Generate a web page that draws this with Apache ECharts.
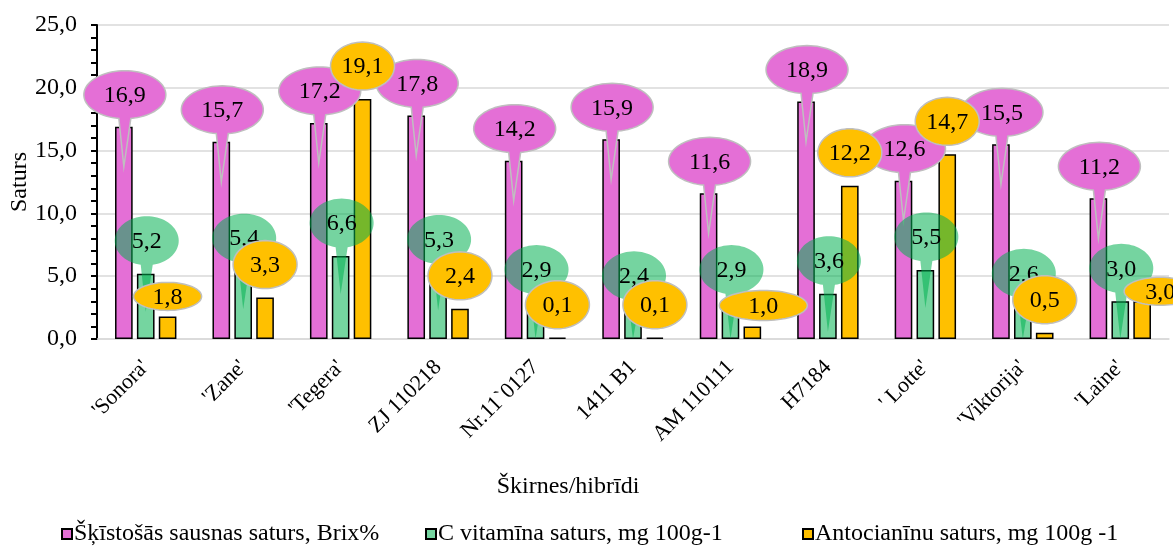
<!DOCTYPE html>
<html>
<head>
<meta charset="utf-8">
<script src="https://cdn.jsdelivr.net/npm/echarts@6/dist/echarts.min.js"></script>
<style>
html, body { margin: 0; background: #fff; }
#chart { width: 1173px; height: 547px; }
</style>
</head>
<body>
<div id="chart"></div>
<script>
const categories = ["'Sonora'", "'Zane'", "'Tegera'", 'ZJ 110218', 'Nr.11`0127', '1411 B1', 'AM 110111', 'H7184', "' Lotte'", "'Viktorija'", "'Laine'"]
const brix = [16.9, 15.7, 17.2, 17.8, 14.2, 15.9, 11.6, 18.9, 12.6, 15.5, 11.2]
const vitC = [5.2, 5.4, 6.6, 5.3, 2.9, 2.4, 2.9, 3.6, 5.5, 2.6, 3.0]
const antho = [1.8, 3.3, 19.1, 2.4, 0.1, 0.1, 1.0, 12.2, 14.7, 0.5, 3.0]
const seriesNames = ['Šķīstošās sausnas saturs, Brix%', 'C vitamīna saturs, mg 100g-1', 'Antocianīnu saturs, mg 100g -1']
const yTicks = { min: 0, max: 25, interval: 5 }

const FONT = '"Liberation Serif", "Times New Roman", serif'
const PINK = '#E46FD6'
const GREEN = '#75D5A0'
const YELLOW = '#FFC000'
const BAR_CAT_GAP = 0.37
const BAR_GAP = 0.24
const legendLefts = [56, 420, 797]

// callout shapes (label layout only, not data)
const calloutStyle = [
  { rx: 41, ry: 24, dy: -32, dx: 1, tail: 40, fill: PINK, stroke: '#BFBFBF' },
  { rx: 32, ry: 24.5, dy: -33, dx: 1, tail: 38, fill: 'rgba(0, 176, 80, 0.54)', stroke: null },
  { rx: 32, ry: 24, dy: -33, dx: 0, tail: 0, fill: YELLOW, stroke: '#BFBFBF' },
]
const yellowTweaks = {
  0: { rx: 34, ry: 14, dy: -20 },
  6: { rx: 44, ry: 15, dy: -21, dx: 11 },
  10: { rx: 36, ry: 14, dy: -10, dx: 18 },
}

const fmt = (v) => v.toFixed(1).replace('.', ',')

function barX(api, idx, pos) {
  const c = api.coord([idx, 0])
  const band = api.size([1, 0])[0]
  const groupW = band * (1 - BAR_CAT_GAP)
  const bw = groupW / (3 + 2 * BAR_GAP)
  return c[0] - groupW / 2 + bw / 2 + pos * bw * (1 + BAR_GAP)
}

function ellipsePoints(cx, cy, rx, ry, tipX, tipY, baseW) {
  const pts = []
  const N = 72
  let start = 0
  let end = -2 * Math.PI
  if (tipY != null) {
    const d = Math.asin(Math.min(1, baseW / 2 / rx))
    start = Math.PI / 2 - d
    end = Math.PI / 2 + d - 2 * Math.PI
  }
  for (let i = 0; i <= N; i++) {
    const t = start + (end - start) * i / N
    pts.push([cx + rx * Math.cos(t), cy + ry * Math.sin(t)])
  }
  if (tipY != null) pts.push([tipX, tipY])
  return pts
}

function calloutSeries(values, pos, z) {
  return {
    type: 'custom',
    z,
    clip: false,
    silent: true,
    data: values.map((v, i) => [i, v]),
    encode: { x: 0, y: 1 },
    renderItem(params, api) {
      const idx = api.value(0)
      const v = api.value(1)
      const s = Object.assign({}, calloutStyle[pos], pos === 2 ? yellowTweaks[idx] || {} : {})
      const x = barX(api, idx, pos)
      const top = api.coord([idx, v])[1]
      const y0 = api.coord([idx, 0])[1]
      const cx = x + s.dx
      const cy = top + s.dy
      const tipY = s.tail ? Math.min(top + s.tail, y0) : null
      const shapeStyle = { fill: s.fill }
      if (s.stroke) { shapeStyle.stroke = s.stroke; shapeStyle.lineWidth = 1.5 }
      return {
        type: 'group',
        children: [
          {
            type: 'polygon',
            shape: { points: ellipsePoints(cx, cy, s.rx, s.ry, x, tipY, 12) },
            style: shapeStyle,
          },
          {
            type: 'text',
            style: {
              text: fmt(v),
              x: cx,
              y: cy + 1,
              align: 'center',
              verticalAlign: 'middle',
              font: '24px ' + FONT,
              fill: '#000',
            },
          },
        ],
      }
    },
  }
}

const barStyle = (color) => ({ color, borderColor: '#000', borderWidth: 1.5 })

const chart = echarts.init(document.getElementById('chart'))
chart.setOption({
  animation: false,
  textStyle: { fontFamily: FONT, color: '#000' },
  grid: { left: 97, right: 4, top: 25, bottom: 208, outerBoundsMode: 'none' },
  legend: seriesNames.map((n, i) => ({
    data: [n],
    left: legendLefts[i],
    top: 517,
    icon: 'rect',
    itemWidth: 10,
    itemHeight: 10,
    selectedMode: false,
    textStyle: { fontSize: 24, fontFamily: FONT, color: '#000', padding: [0, 0, 0, -3] },
  })),
  graphic: [
    {
      type: 'text',
      x: 568,
      y: 487,
      style: { text: 'Škirnes/hibrīdi', align: 'center', verticalAlign: 'middle', font: '24px ' + FONT, fill: '#000' },
    },
    {
      type: 'text',
      x: 20,
      y: 182,
      rotation: Math.PI / 2,
      style: { text: 'Saturs', align: 'center', verticalAlign: 'middle', font: '24px ' + FONT, fill: '#000' },
    },
  ],
  xAxis: {
    type: 'category',
    data: categories,
    axisLine: { lineStyle: { color: '#D9D9D9', width: 1.5 } },
    axisTick: { show: false },
    axisLabel: { rotate: 45, fontSize: 22, fontFamily: FONT, color: '#000', margin: 25, interval: 0 },
  },
  yAxis: {
    type: 'value',
    min: yTicks.min,
    max: yTicks.max,
    interval: yTicks.interval,
    axisLine: { show: true, lineStyle: { color: '#000', width: 2 } },
    axisTick: { show: true, length: 6, lineStyle: { color: '#000', width: 2 } },
    minorTick: { show: true, splitNumber: 5, length: 6, lineStyle: { color: '#000', width: 2 } },
    axisLabel: { fontSize: 24, fontFamily: FONT, color: '#000', margin: 20, formatter: (v) => fmt(v) },
    splitLine: { lineStyle: { color: '#D9D9D9', width: 1.5 } },
  },
  series: [
    { name: seriesNames[0], type: 'bar', data: brix, barCategoryGap: BAR_CAT_GAP * 100 + '%', barGap: BAR_GAP * 100 + '%', itemStyle: barStyle(PINK), z: 2 },
    { name: seriesNames[1], type: 'bar', data: vitC, itemStyle: barStyle(GREEN), z: 2 },
    { name: seriesNames[2], type: 'bar', data: antho, itemStyle: barStyle(YELLOW), z: 2 },
    calloutSeries(brix, 0, 3),
    calloutSeries(vitC, 1, 4),
    calloutSeries(antho, 2, 5),
  ],
})
</script>
</body>
</html>
